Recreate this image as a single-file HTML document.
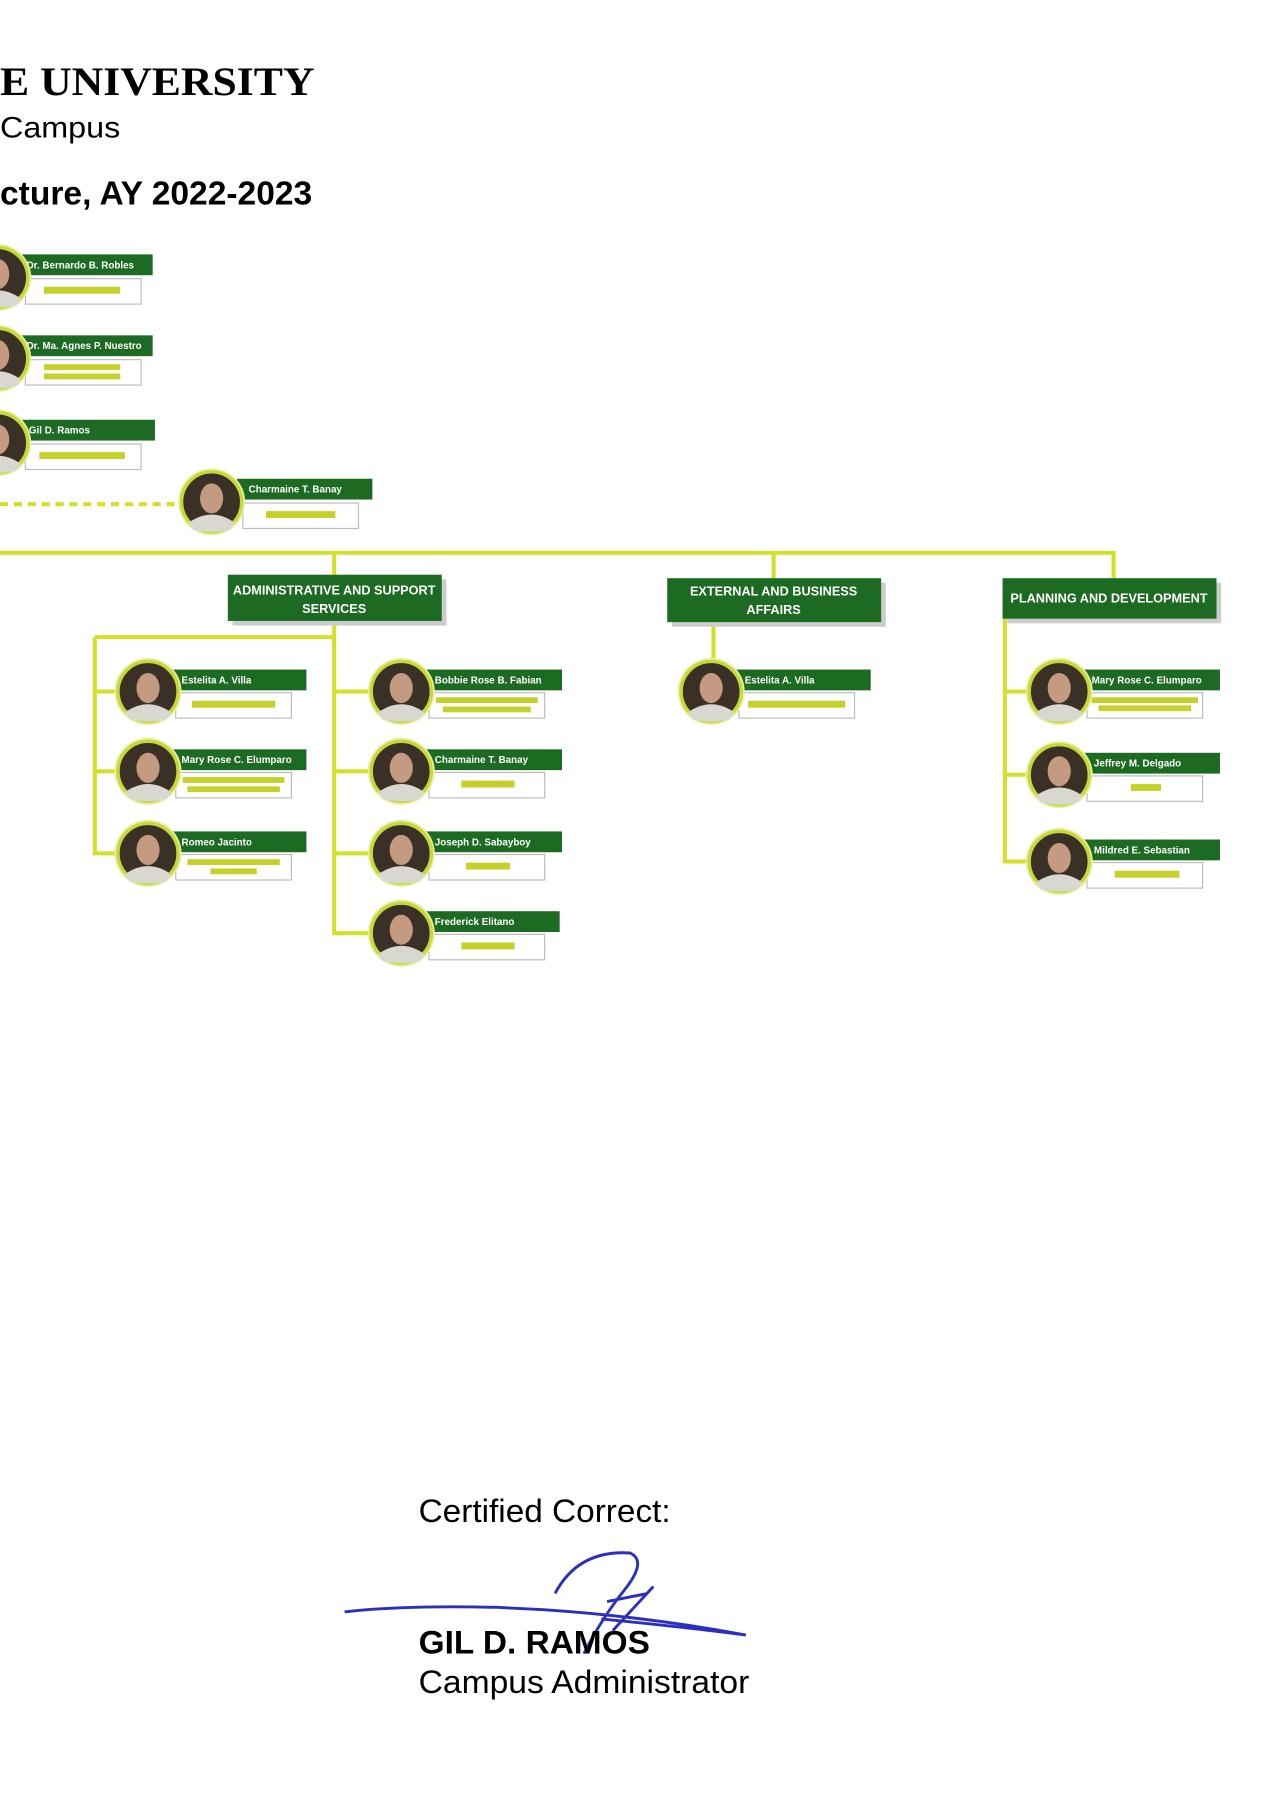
<!DOCTYPE html>
<html><head><meta charset="utf-8"><style>
html,body{margin:0;padding:0;background:#fff;width:1272px;height:1800px;overflow:hidden}
svg{display:block}
.n{font-family:"Liberation Sans",sans-serif;font-weight:bold;font-size:8.5px;fill:#fff}
.h{font-family:"Liberation Sans",sans-serif;font-weight:bold;font-size:11px;fill:#fff}
</style></head><body>
<svg width="1272" height="1800" viewBox="0 0 1100 1556.6" xmlns="http://www.w3.org/2000/svg">
<defs>
<g id="ph">
<circle r="29" fill="#e8f0a0"/>
<circle r="26" fill="#3a3026" stroke="#c7d93a" stroke-width="3"/>
<ellipse cx="0" cy="-3" rx="10" ry="13" fill="#c49a80"/>
<path d="M-20 18 Q0 4 20 18 L16 24 Q0 28 -16 24Z" fill="#d8d8d0"/>
</g>
</defs>
<text x="0" y="82" textLength="272" lengthAdjust="spacingAndGlyphs" font-family="Liberation Serif,serif" font-weight="bold" font-size="35">E UNIVERSITY</text>
<text x="0" y="119" textLength="104" lengthAdjust="spacingAndGlyphs" font-family="Liberation Sans,sans-serif" font-size="26">Campus</text>
<text x="0" y="177" textLength="270" lengthAdjust="spacingAndGlyphs" font-family="Liberation Sans,sans-serif" font-weight="bold" font-size="29">cture, AY 2022-2023</text>

<g stroke="#d2e02a" stroke-width="3.5" fill="none">
<path d="M0 478 H963 V500"/>
<path d="M289 478 V497"/><path d="M669 478 V500"/>
<path d="M289 537 V807 H320"/>
<path d="M82 551 H289"/><path d="M82 551 V738 H100"/>
<path d="M82 598 H100"/><path d="M82 667 H100"/>
<path d="M289 598 H320"/><path d="M289 667 H320"/><path d="M289 738 H320"/>
<path d="M617 538 V572"/>
<path d="M869 535 V745 H888"/><path d="M869 598 H888"/><path d="M869 670 H888"/>
<path d="M0 436 H155" stroke-dasharray="7 5"/>
</g>

<g>
<rect x="201" y="501" width="185" height="40" fill="#ccc"/>
<rect x="197" y="497" width="185" height="40" fill="#1d6a22"/>
<text class="h" x="289" y="514" text-anchor="middle">ADMINISTRATIVE AND SUPPORT</text>
<text class="h" x="289" y="530" text-anchor="middle">SERVICES</text>
<rect x="581" y="504" width="185" height="38" fill="#ccc"/>
<rect x="577" y="500" width="185" height="38" fill="#1d6a22"/>
<text class="h" x="669" y="515" text-anchor="middle">EXTERNAL AND BUSINESS</text>
<text class="h" x="669" y="531" text-anchor="middle">AFFAIRS</text>
<rect x="871" y="504" width="185" height="35" fill="#ccc"/>
<rect x="867" y="500" width="185" height="35" fill="#1d6a22"/>
<text class="h" x="959" y="521" text-anchor="middle">PLANNING AND DEVELOPMENT</text>
</g>

<g>
<g transform="translate(-2,240)"><rect x="24" y="1" width="100" height="22" fill="#fff" stroke="#bbb"/><rect x="40" y="8" width="66" height="6" fill="#c5d12a"/><rect x="17" y="-20" width="117" height="18" fill="#1d6a22"/><text class="n" x="25" y="-8">Dr. Bernardo B. Robles</text><use href="#ph"/></g>
<g transform="translate(-2,310)"><rect x="24" y="1" width="100" height="22" fill="#fff" stroke="#bbb"/><rect x="40" y="5" width="66" height="5" fill="#c5d12a"/><rect x="40" y="13" width="66" height="5" fill="#c5d12a"/><rect x="17" y="-20" width="117" height="18" fill="#1d6a22"/><text class="n" x="25" y="-8">Dr. Ma. Agnes P. Nuestro</text><use href="#ph"/></g>
<g transform="translate(-2,383)"><rect x="24" y="1" width="100" height="22" fill="#fff" stroke="#bbb"/><rect x="36" y="8" width="74" height="6" fill="#c5d12a"/><rect x="17" y="-20" width="119" height="18" fill="#1d6a22"/><text class="n" x="27" y="-8">Gil D. Ramos</text><use href="#ph"/></g>
<g transform="translate(183,434)"><rect x="27" y="1" width="100" height="22" fill="#fff" stroke="#bbb"/><rect x="47" y="8" width="60" height="6" fill="#c5d12a"/><rect x="22" y="-20" width="117" height="18" fill="#1d6a22"/><text class="n" x="32" y="-8">Charmaine T. Banay</text><use href="#ph"/></g>

<g transform="translate(128,598)"><rect x="24" y="1" width="100" height="22" fill="#fff" stroke="#bbb"/><rect x="38" y="8" width="72" height="6" fill="#c5d12a"/><rect x="20" y="-19" width="117" height="18" fill="#1d6a22"/><text class="n" x="29" y="-7">Estelita A. Villa</text><use href="#ph"/></g>
<g transform="translate(128,667)"><rect x="24" y="1" width="100" height="22" fill="#fff" stroke="#bbb"/><rect x="30" y="5" width="88" height="5" fill="#c5d12a"/><rect x="34" y="13" width="80" height="5" fill="#c5d12a"/><rect x="20" y="-19" width="117" height="18" fill="#1d6a22"/><text class="n" x="29" y="-7">Mary Rose C. Elumparo</text><use href="#ph"/></g>
<g transform="translate(128,738)"><rect x="24" y="1" width="100" height="22" fill="#fff" stroke="#bbb"/><rect x="34" y="5" width="80" height="5" fill="#c5d12a"/><rect x="54" y="13" width="40" height="5" fill="#c5d12a"/><rect x="20" y="-19" width="117" height="18" fill="#1d6a22"/><text class="n" x="29" y="-7">Romeo Jacinto</text><use href="#ph"/></g>

<g transform="translate(347,598)"><rect x="24" y="1" width="100" height="22" fill="#fff" stroke="#bbb"/><rect x="30" y="5" width="88" height="5" fill="#c5d12a"/><rect x="36" y="13" width="76" height="5" fill="#c5d12a"/><rect x="20" y="-19" width="119" height="18" fill="#1d6a22"/><text class="n" x="29" y="-7">Bobbie Rose B. Fabian</text><use href="#ph"/></g>
<g transform="translate(347,667)"><rect x="24" y="1" width="100" height="22" fill="#fff" stroke="#bbb"/><rect x="52" y="8" width="46" height="6" fill="#c5d12a"/><rect x="20" y="-19" width="119" height="18" fill="#1d6a22"/><text class="n" x="29" y="-7">Charmaine T. Banay</text><use href="#ph"/></g>
<g transform="translate(347,738)"><rect x="24" y="1" width="100" height="22" fill="#fff" stroke="#bbb"/><rect x="56" y="8" width="38" height="6" fill="#c5d12a"/><rect x="20" y="-19" width="119" height="18" fill="#1d6a22"/><text class="n" x="29" y="-7">Joseph D. Sabayboy</text><use href="#ph"/></g>
<g transform="translate(347,807)"><rect x="24" y="1" width="100" height="22" fill="#fff" stroke="#bbb"/><rect x="52" y="8" width="46" height="6" fill="#c5d12a"/><rect x="20" y="-19" width="117" height="18" fill="#1d6a22"/><text class="n" x="29" y="-7">Frederick Elitano</text><use href="#ph"/></g>

<g transform="translate(615,598)"><rect x="24" y="1" width="100" height="22" fill="#fff" stroke="#bbb"/><rect x="32" y="8" width="84" height="6" fill="#c5d12a"/><rect x="20" y="-19" width="118" height="18" fill="#1d6a22"/><text class="n" x="29" y="-7">Estelita A. Villa</text><use href="#ph"/></g>

<g transform="translate(916,598)"><rect x="24" y="1" width="100" height="22" fill="#fff" stroke="#bbb"/><rect x="28" y="5" width="92" height="5" fill="#c5d12a"/><rect x="34" y="12" width="80" height="5" fill="#c5d12a"/><rect x="20" y="-19" width="119" height="18" fill="#1d6a22"/><text class="n" x="28" y="-7">Mary Rose C. Elumparo</text><use href="#ph"/></g>
<g transform="translate(916,670)"><rect x="24" y="1" width="100" height="22" fill="#fff" stroke="#bbb"/><rect x="62" y="8" width="26" height="6" fill="#c5d12a"/><rect x="20" y="-19" width="119" height="18" fill="#1d6a22"/><text class="n" x="30" y="-7">Jeffrey M. Delgado</text><use href="#ph"/></g>
<g transform="translate(916,745)"><rect x="24" y="1" width="100" height="22" fill="#fff" stroke="#bbb"/><rect x="48" y="8" width="56" height="6" fill="#c5d12a"/><rect x="20" y="-19" width="119" height="18" fill="#1d6a22"/><text class="n" x="30" y="-7">Mildred E. Sebastian</text><use href="#ph"/></g>
</g>

<text x="362" y="1316" textLength="218" lengthAdjust="spacingAndGlyphs" font-family="Liberation Sans,sans-serif" font-size="28">Certified Correct:</text>
<path d="M298 1394 Q350 1388 430 1390 L470 1392 Q560 1398 645 1414 Q600 1408 520 1400 M480 1378 Q500 1340 545 1343 Q560 1350 540 1375 Q520 1400 505 1430 M525 1385 L560 1378 M530 1410 L565 1372" fill="none" stroke="#2b2fc0" stroke-width="2.5"/>
<text x="362" y="1430" textLength="200" lengthAdjust="spacingAndGlyphs" font-family="Liberation Sans,sans-serif" font-weight="bold" font-size="28">GIL D. RAMOS</text>
<text x="362" y="1464" textLength="286" lengthAdjust="spacingAndGlyphs" font-family="Liberation Sans,sans-serif" font-size="28">Campus Administrator</text>
</svg>
</body></html>
